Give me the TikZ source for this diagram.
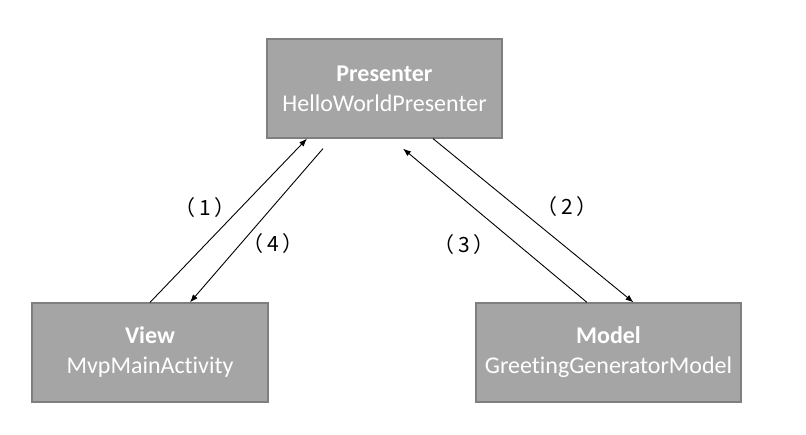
\documentclass[tikz,border=0pt]{standalone}
\usepackage{fontspec}
\setmainfont{Carlito}[Ligatures={NoCommon}]
\newfontfamily\cjk{Noto Sans CJK SC}
\usetikzlibrary{arrows.meta}
\definecolor{boxfill}{HTML}{A5A5A5}
\definecolor{boxline}{HTML}{7F7F7F}
\tikzset{
  mvpbox/.style={draw=boxline, fill=boxfill, line width=1.2pt, text=white,
    align=center, inner sep=0pt, minimum height=99pt,
    font=\fontsize{24}{30}\selectfont},
  arr/.style={line width=0.9pt, -{Latex[length=8pt,width=6pt]}},
  lbl/.style={font=\cjk\fontsize{21}{24}\selectfont, inner sep=0pt}
}
\newcommand{\numlbl}[1]{（\kern4pt#1\kern4pt）}
\begin{document}
\begin{tikzpicture}[x=1pt,y=-1pt]
\useasboundingbox (0,0) rectangle (806,435);
\fill[white] (0,0) rectangle (806,435);
\node[mvpbox, minimum width=235pt] (presenter) at (384.5,88.5) {\textbf{Presenter}\\HelloWorldPresenter};
\node[mvpbox, minimum width=236pt] (view) at (150,352.5) {\textbf{View}\\MvpMainActivity};
\node[mvpbox, minimum width=265pt] (model) at (608.5,352.5) {\textbf{Model}\\GreetingGeneratorModel};
\draw[arr] (view.north) -- ([xshift=-77.5pt]presenter.south);
\draw[arr] ([xshift=-61.5pt,yshift=-10pt]presenter.south) -- ([xshift=40pt]view.north);
\draw[arr] ([xshift=48.5pt]presenter.south) -- ([xshift=25pt]model.north);
\draw[arr] ([xshift=-21.5pt]model.north) -- ([xshift=18.5pt,yshift=-10pt]presenter.south);
\node[lbl] (l1) at (205,208) {\numlbl{1}};
\node[lbl] (l4) at (273,244) {\numlbl{4}};
\node[lbl] (l2) at (567,207) {\numlbl{2}};
\node[lbl] (l3) at (464,245) {\numlbl{3}};
\end{tikzpicture}
\end{document}
